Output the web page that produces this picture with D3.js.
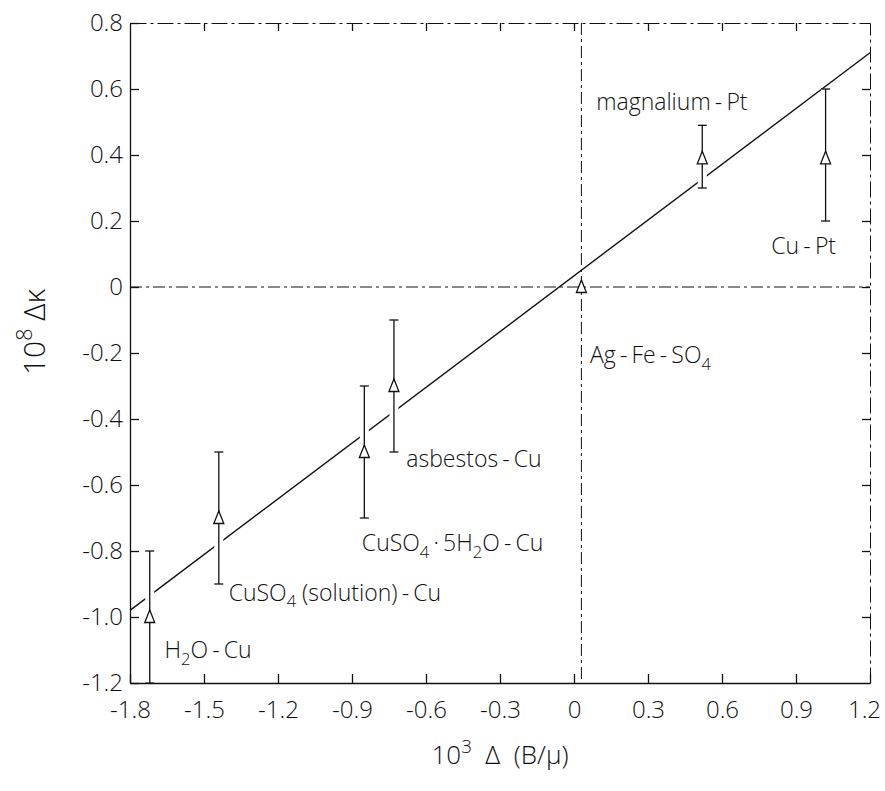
<!DOCTYPE html>
<html>
<head>
<meta charset="utf-8">
<script src="https://cdn.jsdelivr.net/npm/d3@7"></script>
<style>
  body { margin: 0; background: #fff; }
  svg text {
    font-family: "Open Sans", "Liberation Sans", Arial, sans-serif;
    font-weight: 300;
    fill: #111;
    white-space: pre;
  }
</style>
</head>
<body>
<div class="chart"></div>
<script>
var svgWidth = 885;
var svgHeight = 791;

var margin = { top: 23, right: 15, bottom: 108, left: 130 };
var width = svgWidth - margin.left - margin.right;
var height = svgHeight - margin.top - margin.bottom;

// samples (_x = subscript)
var samples = ["H_2O-Cu", "CuSO_4 (solution)-Cu", "CuSO_4·5H_2O-Cu", "asbestos-Cu",
               "Ag-Fe-SO_4", "magnalium-Pt", "Cu-Pt"];
var sampleX = [-1.72, -1.44, -0.85, -0.73, 0.03, 0.52, 1.02];
var sampleY = [-1.0, -0.7, -0.5, -0.3, 0.0, 0.39, 0.39];
var errLow  = [-1.2, -0.9, -0.7, -0.5, null, 0.30, 0.20];
var errHigh = [-0.8, -0.5, -0.3, -0.1, null, 0.49, 0.60];

// where each sample name sits (data units, left end of baseline)
var labelX = [-1.66, -1.40, -0.86, -0.68, 0.065, 0.09, 0.80];
var labelY = [-1.125, -0.95, -0.80, -0.545, -0.23, 0.535, 0.10];

// fitted line
var fitX = [-1.8, 1.2];
var fitY = [-0.98, 0.71];

// reference lines
var refX = 0.03;
var refY = 0;

var xTicks = [-1.8, -1.5, -1.2, -0.9, -0.6, -0.3, 0, 0.3, 0.6, 0.9, 1.2];
var yTicks = [0.8, 0.6, 0.4, 0.2, 0, -0.2, -0.4, -0.6, -0.8, -1.0, -1.2];

var svg = d3.select(".chart")
  .append("svg")
  .attr("width", svgWidth)
  .attr("height", svgHeight);

var chartGroup = svg.append("g")
  .attr("transform", `translate(${margin.left}, ${margin.top})`);

var x = d3.scaleLinear().domain([-1.8, 1.2]).range([0, width]);
var y = d3.scaleLinear().domain([-1.2, 0.8]).range([height, 0]);

function tickText(d) {
  if (Math.abs(d) < 1e-9) return "0";
  return (d < 0 ? "-" : "") + Math.abs(d).toFixed(1);
}

// text with sub/superscripts and loose hyphens
function richText(sel, str, size) {
  var parts = [];
  for (var i = 0; i < str.length; i++) {
    var c = str[i];
    if (c === "_") parts.push({ t: str[++i], sub: true });
    else if (c === "^") parts.push({ t: str[++i], sup: true });
    else if (c === "-" || c === "·") parts.push({ t: c, pad: true });
    else {
      var last = parts[parts.length - 1];
      if (last && last.plain) last.t += c;
      else parts.push({ t: c, plain: true });
    }
  }
  var shift = 0, padNext = false;
  parts.forEach(function(p) {
    var target = p.sub ? size * 0.3 : p.sup ? -size * 0.42 : 0;
    var ts = sel.append("tspan").attr("dy", target - shift).text(p.t);
    shift = target;
    if (p.sub || p.sup) ts.attr("font-size", size * 0.72);
    var dx = 0;
    if (padNext) dx += size * 0.18;
    if (p.pad) dx += size * 0.18;
    if (dx) ts.attr("dx", dx);
    padNext = !!p.pad;
  });
}

/* Axes */
var bottomAxis = d3.axisBottom(x).tickValues(xTicks).tickFormat(tickText)
  .tickSizeInner(-9).tickSizeOuter(0).tickPadding(18);
var leftAxis = d3.axisLeft(y).tickValues(yTicks).tickFormat(tickText)
  .tickSizeInner(-9).tickSizeOuter(0).tickPadding(7);
var topAxis = d3.axisTop(x).tickValues(xTicks.slice(1, -1)).tickFormat("")
  .tickSizeInner(-8).tickSizeOuter(0);
var rightAxis = d3.axisRight(y).tickValues(yTicks.slice(1, -1)).tickFormat("")
  .tickSizeInner(-8).tickSizeOuter(0);

var xAxis = chartGroup.append("g")
  .attr("transform", `translate(0, ${height})`)
  .call(bottomAxis);
var yAxis = chartGroup.append("g").call(leftAxis);
var tAxis = chartGroup.append("g").call(topAxis);
var rAxis = chartGroup.append("g")
  .attr("transform", `translate(${width}, 0)`)
  .call(rightAxis);

[xAxis, yAxis, tAxis, rAxis].forEach(function(a) {
  a.selectAll("path, line").attr("stroke", "#111").attr("stroke-width", 1.3);
  a.selectAll("text").attr("font-size", 24).attr("fill", "#111");
  a.attr("font-family", null);
});
// keep the last label inside the page
xAxis.selectAll(".tick text").filter(d => d === 1.2).attr("dx", -6);

tAxis.select(".domain").attr("stroke-dasharray", "16,4,3,4").attr("stroke-width", 1);
rAxis.select(".domain").attr("stroke-dasharray", "16,4,3,4").attr("stroke-width", 1);

/* Reference lines */
chartGroup.append("line")
  .attr("x1", x(-1.8)).attr("x2", x(1.2))
  .attr("y1", y(refY)).attr("y2", y(refY))
  .attr("stroke", "#111").attr("stroke-width", 1)
  .attr("stroke-dasharray", "12,4,3,4");
chartGroup.append("line")
  .attr("x1", x(refX)).attr("x2", x(refX))
  .attr("y1", y(0.8)).attr("y2", y(-1.2))
  .attr("stroke", "#111").attr("stroke-width", 1)
  .attr("stroke-dasharray", "12,4,3,4");

/* Fitted line */
var fitLine = d3.line().x(d => x(d[0])).y(d => y(d[1]));
chartGroup.append("path")
  .datum(d3.zip(fitX, fitY))
  .attr("d", fitLine)
  .attr("fill", "none")
  .attr("stroke", "#111")
  .attr("stroke-width", 1.4);

/* Data points */
var data = samples.map(function(s, i) {
  return { name: s, x: sampleX[i], y: sampleY[i], lo: errLow[i], hi: errHigh[i],
           lx: labelX[i], ly: labelY[i] };
});
var withErr = data.filter(d => d.lo !== null);

// white gap where the bars cross the line
chartGroup.selectAll(".halo")
  .data(withErr)
  .enter()
  .append("line")
  .attr("class", "halo")
  .attr("x1", d => x(d.x)).attr("x2", d => x(d.x))
  .attr("y1", d => y(d.hi)).attr("y2", d => y(d.lo))
  .attr("stroke", "#fff").attr("stroke-width", 9);

var bars = chartGroup.selectAll(".bar")
  .data(withErr)
  .enter()
  .append("g")
  .attr("class", "bar")
  .attr("stroke", "#111")
  .attr("stroke-width", 1.3);
bars.append("line")
  .attr("x1", d => x(d.x)).attr("x2", d => x(d.x))
  .attr("y1", d => y(d.hi)).attr("y2", d => y(d.lo));
bars.append("line")
  .attr("x1", d => x(d.x) - 4.5).attr("x2", d => x(d.x) + 4.5)
  .attr("y1", d => y(d.hi)).attr("y2", d => y(d.hi));
bars.append("line")
  .attr("x1", d => x(d.x) - 4.5).attr("x2", d => x(d.x) + 4.5)
  .attr("y1", d => y(d.lo)).attr("y2", d => y(d.lo));

chartGroup.selectAll(".marker")
  .data(data)
  .enter()
  .append("path")
  .attr("class", "marker")
  .attr("transform", d => `translate(${x(d.x)}, ${y(d.y)})`)
  .attr("d", "M0,-7L5,5.5L-5,5.5Z")
  .attr("fill", "#fff")
  .attr("stroke", "#111")
  .attr("stroke-width", 1.3);

chartGroup.selectAll(".label")
  .data(data)
  .enter()
  .append("text")
  .attr("class", "label")
  .attr("x", d => x(d.lx))
  .attr("y", d => y(d.ly))
  .attr("font-size", 23)
  .each(function(d) { richText(d3.select(this), d.name, 23); });

/* Axis titles */
var xTitle = svg.append("text")
  .attr("x", margin.left + width / 2)
  .attr("y", 764)
  .attr("text-anchor", "middle")
  .attr("font-size", 26);
richText(xTitle, "10^3  Δ  (B/μ)", 26);

var yTitle = svg.append("text")
  .attr("transform", "translate(45, 332) rotate(-90)")
  .attr("text-anchor", "middle")
  .attr("font-size", 30);
richText(yTitle, "10^8 Δκ", 30);
</script>
</body>
</html>
